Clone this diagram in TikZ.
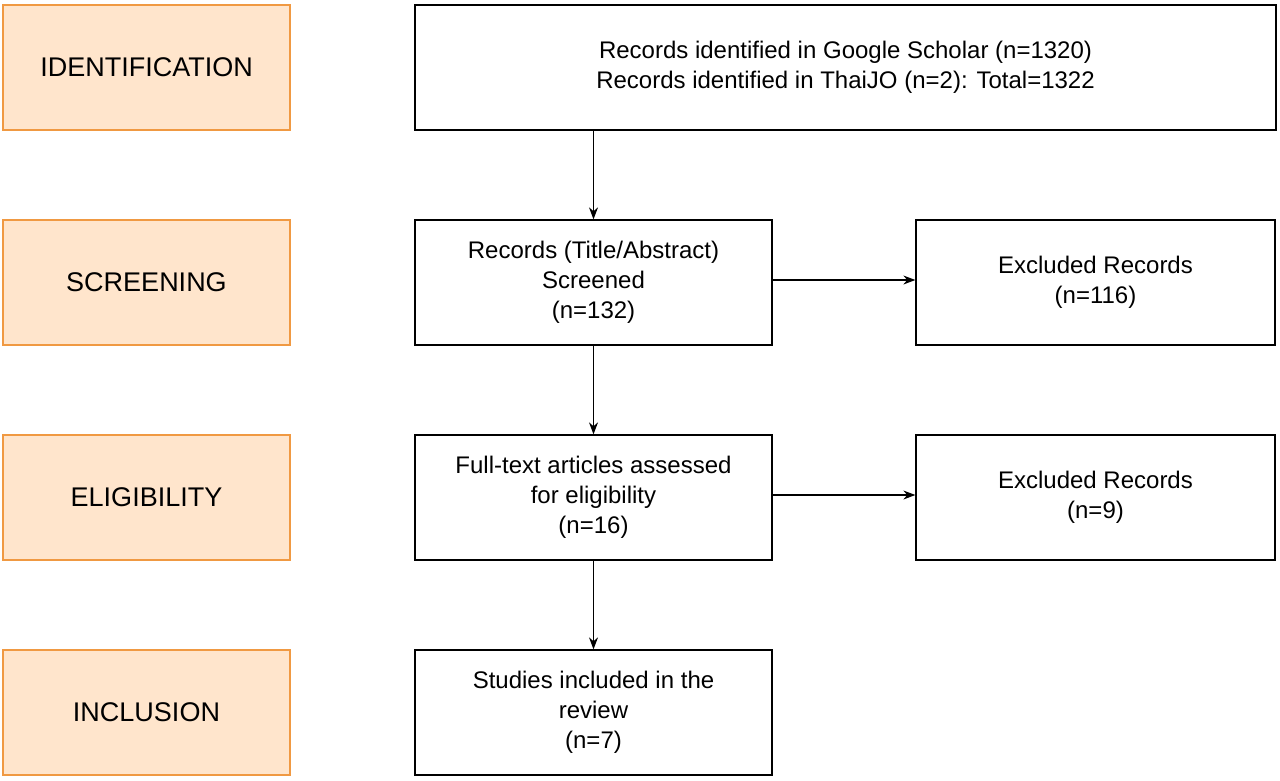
\documentclass[tikz,border=0pt]{standalone}
\usepackage{fontspec}
\usetikzlibrary{arrows.meta}
\setmainfont{Liberation Sans}
\begin{document}
\begin{tikzpicture}[x=1pt,y=-1pt,
  stage/.style={draw=orange!70!brown!80, line width=1.5pt, fill=orange!20, minimum width=287pt, minimum height=125pt, font=\fontsize{27}{32}\selectfont},
  box/.style={draw=black, line width=1.3pt, fill=white, align=center, font=\fontsize{24}{30}\selectfont},
  arr/.style={-{Stealth[length=12pt,width=9pt]}, line width=1.2pt}]
\useasboundingbox (0,0) rectangle (1280,780);
\node[stage] (s1) at (146.5,67.5) {IDENTIFICATION};
\node[stage] (s2) at (146.5,282.5) {SCREENING};
\node[stage] (s3) at (146.5,497.5) {ELIGIBILITY};
\node[stage] (s4) at (146.5,712.5) {INCLUSION};
\node[box, minimum width=861pt, minimum height=125pt] (id) at (845.5,67.5) {Records identified in Google Scholar (n=1320)\\Records identified in ThaiJO (n=2): Total=1322};
\node[box, minimum width=357pt, minimum height=125pt] (sc) at (593.5,282.5) {Records (Title/Abstract)\\Screened\\(n=132)};
\node[box, minimum width=359pt, minimum height=125pt] (ex1) at (1095.5,282.5) {Excluded Records\\(n=116)};
\node[box, minimum width=357pt, minimum height=125pt] (el) at (593.5,497.5) {Full-text articles assessed\\for eligibility\\(n=16)};
\node[box, minimum width=359pt, minimum height=125pt] (ex2) at (1095.5,497.5) {Excluded Records\\(n=9)};
\node[box, minimum width=357pt, minimum height=125pt] (in) at (593.5,712.5) {Studies included in the\\review\\(n=7)};
\draw[arr] (id.south -| sc) -- (sc.north);
\draw[arr] (sc) -- (el);
\draw[arr] (el) -- (in);
\draw[arr] (sc.east |- 0,280) -- (ex1.west |- 0,280);
\draw[arr] (el.east |- 0,495) -- (ex2.west |- 0,495);
\end{tikzpicture}
\end{document}
